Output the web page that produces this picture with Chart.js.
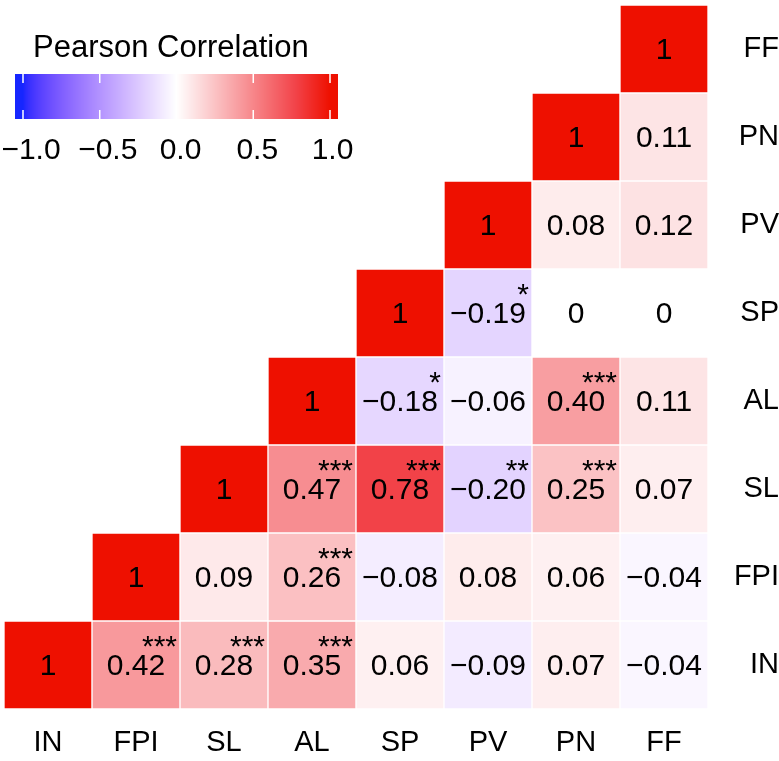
<!DOCTYPE html>
<html>
<head>
<meta charset="utf-8">
<script src="https://cdn.jsdelivr.net/npm/chart.js@4.4.0/dist/chart.umd.min.js"></script>
<style>
  html, body { margin: 0; padding: 0; background: #fff; }
</style>
</head>
<body>
<canvas id="corr" width="779" height="761"></canvas>
<script>
// variables, bottom-left to top-right
const vars = ['IN', 'FPI', 'SL', 'AL', 'SP', 'PV', 'PN', 'FF'];

// row r keeps the values for columns r..7 (upper triangle)
const corr = [
    [1, 0.42, 0.28, 0.35, 0.06, -0.09, 0.07, -0.04],  // IN
    [1, 0.09, 0.26, -0.08, 0.08, 0.06, -0.04],        // FPI
    [1, 0.47, 0.78, -0.20, 0.25, 0.07],               // SL
    [1, -0.18, -0.06, 0.40, 0.11],                    // AL
    [1, -0.19, 0, 0],                                 // SP
    [1, 0.08, 0.12],                                  // PV
    [1, 0.11],                                        // PN
    [1]                                               // FF
];

// significance marks, same layout as corr
const stars = [
    ['', '***', '***', '***', '', '', '', ''],
    ['', '', '***', '', '', '', ''],
    ['', '***', '***', '**', '***', ''],
    ['', '*', '', '***', ''],
    ['', '*', '', ''],
    ['', '', ''],
    ['', ''],
    ['']
];

const legendTicks = [-1, -0.5, 0, 0.5, 1];
const legendTitle = 'Pearson Correlation';

const FONT = '"Liberation Sans", Arial, Helvetica, sans-serif';

function fmt(v) {
    if (v === 1) return '1';
    if (v === 0) return '0';
    return v.toFixed(2).replace('-', '\u2212');
}

// --- colour scale: blue - white - red ---
function toLin(c) { c /= 255; return c <= 0.04045 ? c / 12.92 : Math.pow((c + 0.055) / 1.055, 2.4); }
function fromLin(c) {
    c = c <= 0.0031308 ? 12.92 * c : 1.055 * Math.pow(Math.max(c, 0), 1 / 2.4) - 0.055;
    return Math.round(Math.max(0, Math.min(1, c)) * 255);
}
function rgb2lab(rgb) {
    const r = toLin(rgb[0]), g = toLin(rgb[1]), b = toLin(rgb[2]);
    const f = t => t > 0.008856 ? Math.cbrt(t) : 7.787 * t + 16 / 116;
    const x = f((0.4124 * r + 0.3576 * g + 0.1805 * b) / 0.95047);
    const y = f(0.2126 * r + 0.7152 * g + 0.0722 * b);
    const z = f((0.0193 * r + 0.1192 * g + 0.9505 * b) / 1.08883);
    return [116 * y - 16, 500 * (x - y), 200 * (y - z)];
}
function lab2rgb(lab) {
    const fy = (lab[0] + 16) / 116, fx = fy + lab[1] / 500, fz = fy - lab[2] / 200;
    const inv = t => t * t * t > 0.008856 ? t * t * t : (t - 16 / 116) / 7.787;
    const x = inv(fx) * 0.95047, y = inv(fy), z = inv(fz) * 1.08883;
    return [
        fromLin(3.2406 * x - 1.5372 * y - 0.4986 * z),
        fromLin(-0.9689 * x + 1.8758 * y + 0.0415 * z),
        fromLin(0.0557 * x - 0.2040 * y + 1.0570 * z)
    ];
}

const WHITE = [255, 255, 255];
const PINK = [242, 66, 72];
const RED = [238, 16, 0];
const labWhite = rgb2lab(WHITE);
const labBlue = rgb2lab([22, 38, 255]);

function mix(a, b, t) { return a.map((v, i) => v + (b[i] - v) * t); }

function corrColor(v) {
    v = Math.max(-1, Math.min(1, v));
    let c;
    if (v >= 0) {
        c = v <= 0.78 ? mix(WHITE, PINK, v / 0.78) : mix(PINK, RED, (v - 0.78) / 0.22);
        c = c.map(Math.round);
    } else {
        c = lab2rgb(mix(labWhite, labBlue, -v));
    }
    return 'rgb(' + c.join(',') + ')';
}

// one floating-bar dataset per row, every bar spans a full cell
const datasets = vars.map((name, r) => ({
    label: name,
    data: vars.map((_, c) => c >= r ? [r - 0.5, r + 0.5] : null),
    backgroundColor: vars.map((_, c) => c >= r ? corrColor(corr[r][c - r]) : 'rgba(0,0,0,0)'),
    borderColor: '#ffffff',
    borderWidth: 1,
    borderSkipped: false,
    grouped: false,
    barPercentage: 1,
    categoryPercentage: 1
}));

// numbers and stars inside the cells
const cellText = {
    id: 'cellText',
    afterDatasetsDraw(chart) {
        const ctx = chart.ctx;
        const xs = chart.scales.x, ys = chart.scales.y;
        const halfW = (xs.getPixelForValue(1) - xs.getPixelForValue(0)) / 2;
        const halfH = (ys.getPixelForValue(0) - ys.getPixelForValue(1)) / 2;
        ctx.save();
        ctx.fillStyle = '#000';
        ctx.font = '30px ' + FONT;
        ctx.textBaseline = 'alphabetic';
        corr.forEach((row, r) => {
            row.forEach((v, k) => {
                const c = r + k;
                const x = xs.getPixelForValue(c);
                const y = ys.getPixelForValue(r);
                ctx.textAlign = 'center';
                ctx.fillText(fmt(v), x, y + 9.5);
                const s = stars[r][k];
                if (s) {
                    ctx.textAlign = 'right';
                    ctx.fillText(s, x + halfW - 3, y - halfH + 34.5);
                }
            });
        });
        ctx.restore();
    }
};

// colour bar legend in the empty top-left corner
const colorBar = {
    id: 'colorBar',
    afterDraw(chart) {
        const ctx = chart.ctx;
        const x0 = 15, x1 = 338, y0 = 74, y1 = 119;
        const vx = v => 23 + (v + 1) / 2 * 307;
        ctx.save();
        ctx.fillStyle = '#000';
        ctx.font = '31px ' + FONT;
        ctx.textAlign = 'left';
        ctx.textBaseline = 'alphabetic';
        ctx.fillText(legendTitle, 33, 57);

        for (let px = x0; px < x1; px++) {
            const v = -1 + (px + 0.5 - 23) / 307 * 2;
            ctx.fillStyle = corrColor(v);
            ctx.fillRect(px, y0, 1, y1 - y0);
        }
        ctx.strokeStyle = '#fff';
        ctx.lineWidth = 1.5;
        legendTicks.forEach(t => {
            const x = vx(t);
            ctx.beginPath();
            ctx.moveTo(x, y0); ctx.lineTo(x, y0 + 9);
            ctx.moveTo(x, y1 - 9); ctx.lineTo(x, y1);
            ctx.stroke();
        });

        ctx.fillStyle = '#000';
        ctx.font = '30px ' + FONT;
        ctx.textAlign = 'center';
        legendTicks.forEach(t => {
            const shift = t < 0 ? 8 : (t > 0.75 ? 2.5 : 4);
            ctx.fillText(t.toFixed(1).replace('-', '\u2212'), vx(t) + shift, 159);
        });
        ctx.restore();
    }
};

Chart.defaults.font.family = FONT;

new Chart(document.getElementById('corr'), {
    type: 'bar',
    data: { labels: vars, datasets: datasets },
    options: {
        responsive: false,
        animation: false,
        events: [],
        layout: { padding: { left: 4, top: 5, right: 0, bottom: 0 } },
        plugins: { legend: { display: false }, tooltip: { enabled: false } },
        scales: {
            x: {
                type: 'category',
                offset: true,
                grid: { display: false, drawTicks: false },
                border: { display: false },
                ticks: { color: '#000', font: { size: 29 }, padding: 17, maxRotation: 0, autoSkip: false },
                afterFit: s => { s.height = 52; s.paddingLeft = 0; s.paddingRight = 0; }
            },
            y: {
                type: 'linear',
                position: 'right',
                min: -0.5,
                max: 7.5,
                grid: { display: false, drawTicks: false },
                border: { display: false },
                afterBuildTicks: s => { s.ticks = vars.map((_, i) => ({ value: i })); },
                ticks: {
                    color: '#000', font: { size: 29 }, crossAlign: 'far', padding: 18,
                    callback: v => vars[v]
                },
                afterFit: s => { s.width = 71; s.paddingTop = 0; s.paddingBottom = 0; }
            }
        }
    },
    plugins: [cellText, colorBar]
});
</script>
</body>
</html>
